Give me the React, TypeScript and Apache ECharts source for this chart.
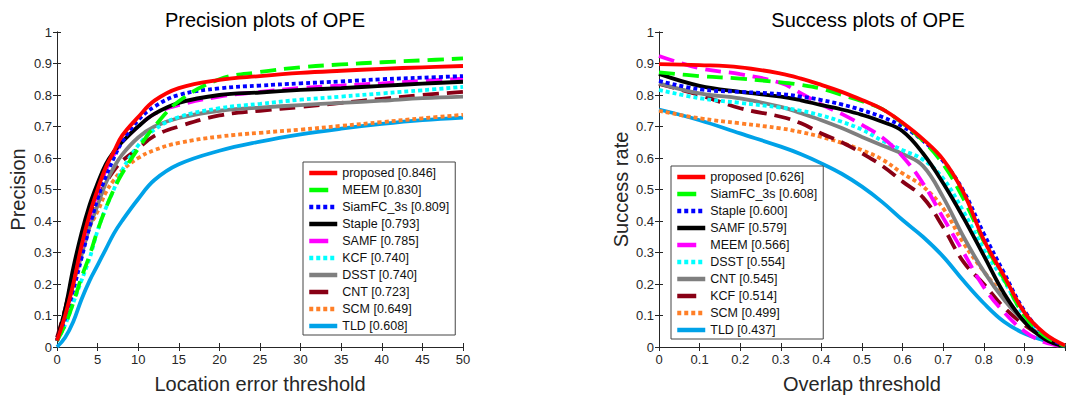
import React, { useEffect, useRef } from "react";
import * as echarts from "echarts";

// ---------- Precision plot data ----------
const precisionThresholds = [0, 1, 2, 3, 4, 5, 6, 7, 8, 10, 12, 15, 20, 25, 30, 35, 40, 45, 50];
const precisionNames = [
  "proposed [0.846]", "MEEM [0.830]", "SiamFC_3s [0.809]", "Staple [0.793]", "SAMF [0.785]",
  "KCF [0.740]", "DSST [0.740]", "CNT [0.723]", "SCM [0.649]", "TLD [0.608]",
];
const precProposed = [0.02, 0.1, 0.2, 0.32, 0.42, 0.5, 0.57, 0.62, 0.67, 0.73, 0.782, 0.822, 0.848, 0.86, 0.87, 0.877, 0.883, 0.888, 0.892];
const precMEEM = [0.02, 0.07, 0.14, 0.22, 0.29, 0.37, 0.44, 0.5, 0.55, 0.63, 0.7, 0.78, 0.85, 0.873, 0.888, 0.897, 0.904, 0.91, 0.916];
const precSiamFC = [0.02, 0.09, 0.18, 0.28, 0.38, 0.47, 0.54, 0.6, 0.65, 0.72, 0.763, 0.8, 0.821, 0.83, 0.837, 0.843, 0.85, 0.855, 0.86];
const precStaple = [0.02, 0.12, 0.25, 0.36, 0.45, 0.52, 0.58, 0.62, 0.65, 0.7, 0.74, 0.775, 0.8, 0.808, 0.816, 0.822, 0.829, 0.836, 0.842];
const precSAMF = [0.02, 0.1, 0.2, 0.31, 0.41, 0.49, 0.56, 0.61, 0.65, 0.7, 0.74, 0.768, 0.795, 0.81, 0.822, 0.83, 0.837, 0.845, 0.852];
const precKCF = [0.02, 0.07, 0.14, 0.21, 0.28, 0.37, 0.44, 0.5, 0.56, 0.64, 0.69, 0.73, 0.758, 0.772, 0.785, 0.795, 0.805, 0.815, 0.826];
const precDSST = [0.02, 0.1, 0.2, 0.29, 0.38, 0.45, 0.52, 0.57, 0.61, 0.665, 0.7, 0.727, 0.75, 0.76, 0.768, 0.775, 0.782, 0.79, 0.795];
const precCNT = [0.03, 0.12, 0.23, 0.33, 0.42, 0.47, 0.52, 0.56, 0.59, 0.63, 0.67, 0.7, 0.735, 0.75, 0.762, 0.775, 0.788, 0.8, 0.81];
const precSCM = [0.02, 0.12, 0.23, 0.31, 0.38, 0.43, 0.49, 0.53, 0.56, 0.6, 0.625, 0.648, 0.668, 0.68, 0.69, 0.702, 0.714, 0.726, 0.737];
const precTLD = [0.0, 0.03, 0.08, 0.15, 0.21, 0.26, 0.31, 0.36, 0.4, 0.47, 0.53, 0.58, 0.623, 0.652, 0.675, 0.693, 0.708, 0.72, 0.728];
const precisionValues = [precProposed, precMEEM, precSiamFC, precStaple, precSAMF, precKCF, precDSST, precCNT, precSCM, precTLD];

// ---------- Success plot data ----------
const successThresholds = [0, 0.1, 0.2, 0.3, 0.35, 0.4, 0.45, 0.5, 0.55, 0.6, 0.65, 0.7, 0.75, 0.8, 0.85, 0.9, 0.95, 1];
const successNames = [
  "proposed [0.626]", "SiamFC_3s [0.608]", "Staple [0.600]", "SAMF [0.579]", "MEEM [0.566]",
  "DSST [0.554]", "CNT [0.545]", "KCF [0.514]", "SCM [0.499]", "TLD [0.437]",
];
const succProposed = [0.898, 0.895, 0.888, 0.868, 0.852, 0.832, 0.81, 0.784, 0.755, 0.712, 0.66, 0.595, 0.49, 0.34, 0.225, 0.11, 0.043, 0.005];
const succSiamFC = [0.872, 0.86, 0.852, 0.84, 0.832, 0.82, 0.8, 0.78, 0.755, 0.71, 0.655, 0.58, 0.47, 0.335, 0.215, 0.1, 0.035, 0.003];
const succStaple = [0.845, 0.818, 0.81, 0.803, 0.795, 0.784, 0.77, 0.752, 0.73, 0.7, 0.655, 0.59, 0.495, 0.36, 0.235, 0.115, 0.04, 0.003];
const succSAMF = [0.867, 0.829, 0.81, 0.795, 0.783, 0.768, 0.754, 0.737, 0.715, 0.685, 0.615, 0.52, 0.41, 0.29, 0.17, 0.08, 0.025, 0.002];
const succMEEM = [0.924, 0.885, 0.866, 0.838, 0.805, 0.77, 0.74, 0.705, 0.665, 0.605, 0.52, 0.41, 0.3, 0.19, 0.11, 0.05, 0.015, 0.002];
const succDSST = [0.816, 0.79, 0.775, 0.76, 0.75, 0.735, 0.715, 0.69, 0.655, 0.625, 0.595, 0.535, 0.43, 0.31, 0.21, 0.1, 0.035, 0.003];
const succCNT = [0.837, 0.805, 0.789, 0.762, 0.742, 0.72, 0.695, 0.667, 0.64, 0.613, 0.575, 0.475, 0.35, 0.24, 0.15, 0.08, 0.03, 0.003];
const succKCF = [0.835, 0.8, 0.758, 0.731, 0.71, 0.678, 0.65, 0.615, 0.575, 0.525, 0.475, 0.38, 0.27, 0.2, 0.125, 0.07, 0.03, 0.003];
const succSCM = [0.75, 0.726, 0.71, 0.694, 0.682, 0.667, 0.648, 0.625, 0.595, 0.551, 0.51, 0.44, 0.33, 0.24, 0.16, 0.08, 0.03, 0.003];
const succTLD = [0.754, 0.72, 0.678, 0.636, 0.612, 0.583, 0.55, 0.509, 0.46, 0.403, 0.35, 0.287, 0.21, 0.139, 0.08, 0.043, 0.02, 0.002];
const successValues = [succProposed, succSiamFC, succStaple, succSAMF, succMEEM, succDSST, succCNT, succKCF, succSCM, succTLD];

// ---------- Styles by rank ----------
const rankColors = ["#FF0000", "#00FF00", "#0000FF", "#000000", "#FF00FF", "#00FFFF", "#7F7F7F", "#880015", "#FF7F27", "#00A2E8"];
const DASH: number[] = [16, 8];
const DOT: number[] = [4, 3];
const rankTypes: any[] = ["solid", DASH, DOT, "solid", DASH, DOT, "solid", DASH, DOT, "solid"];

const FONT = "'Liberation Sans', Arial, sans-serif";
const TEXT = "#262626";

function makeAxisPair(gridIndex: number, dir: "x" | "y", min: number, max: number, interval: number, name: string, nameGap: number, hideLast: boolean) {
  const common = {
    gridIndex,
    type: "value",
    min,
    max,
    interval,
    splitLine: { show: false },
    axisLine: { show: true, lineStyle: { color: TEXT, width: 1 } },
    axisTick: { show: true, inside: true, length: 4, lineStyle: { color: TEXT } },
  };
  const main = {
    ...common,
    position: dir === "x" ? "bottom" : "left",
    name,
    nameLocation: "middle",
    nameGap,
    nameTextStyle: { fontSize: 20, color: TEXT, fontFamily: FONT },
    axisLabel: {
      show: true,
      fontSize: 13,
      color: TEXT,
      fontFamily: FONT,
      margin: dir === "x" ? 6 : 5,
      formatter: (v: number) => (hideLast && Math.abs(v - max) < 1e-9 ? "" : String(Math.round(v * 1000) / 1000)),
    },
  };
  const mirror = {
    ...common,
    position: dir === "x" ? "top" : "right",
    axisLabel: { show: false },
  };
  return [main, mirror];
}

function legendData(names: string[]) {
  return names.map((n, i) => {
    const t = rankTypes[i];
    if (t === DASH) return { name: n, lineStyle: { type: [19, 30], width: 4.5 } };
    if (t === DOT) return { name: n, lineStyle: { type: [4, 3], width: 4.5 } };
    return { name: n, lineStyle: { width: 4.5 } };
  });
}

export default function App() {
  const ref = useRef<HTMLDivElement>(null);
  useEffect(() => {
    if (!ref.current) return;
    const chart = echarts.init(ref.current, undefined, { renderer: "svg" });

    const xAxes = [
      ...makeAxisPair(0, "x", 0, 50, 5, "Location error threshold", 27, false),
      ...makeAxisPair(1, "x", 0, 1, 0.1, "Overlap threshold", 27, true),
    ];
    const yAxes = [
      ...makeAxisPair(0, "y", 0, 1, 0.1, "Precision", 29, false),
      ...makeAxisPair(1, "y", 0, 1, 0.1, "Success rate", 28, false),
    ];

    const series: any[] = [];
    precisionNames.forEach((name, i) => {
      series.push({
        type: "line",
        name,
        xAxisIndex: 0,
        yAxisIndex: 0,
        data: precisionThresholds.map((x, k) => [x, precisionValues[i][k]]),
        symbol: "none",
        smooth: 0.4,
        lineStyle: { color: rankColors[i], width: 3.8, type: rankTypes[i], cap: "butt" },
        itemStyle: { color: rankColors[i] },
        z: 20 - i,
      });
    });
    successNames.forEach((name, i) => {
      series.push({
        type: "line",
        name,
        xAxisIndex: 2,
        yAxisIndex: 2,
        data: successThresholds.map((x, k) => [x, successValues[i][k]]),
        symbol: "none",
        smooth: 0.4,
        lineStyle: { color: rankColors[i], width: 3.8, type: rankTypes[i], cap: "butt" },
        itemStyle: { color: rankColors[i] },
        z: 20 - i,
      });
    });

    const legendCommon = {
      orient: "vertical",
      backgroundColor: "#ffffff",
      borderColor: "#444444",
      borderWidth: 1,
      borderRadius: 0,
      itemWidth: 28,
      itemHeight: 1,
      itemGap: 3,
      selectedMode: false,
      itemStyle: { opacity: 0 },
      lineStyle: { width: 4.5 },
      textStyle: { fontSize: 12.5, color: "#111", fontFamily: FONT, lineHeight: 14 },
      z: 50,
    };

    chart.setOption({
      animation: false,
      backgroundColor: "#ffffff",
      textStyle: { fontFamily: FONT },
      title: [
        { text: "Precision plots of OPE", left: 260, top: 5, textAlign: "center", textStyle: { fontSize: 20, fontWeight: "normal", color: "#000", fontFamily: FONT } },
        { text: "Success plots of OPE", left: 863, top: 5, textAlign: "center", textStyle: { fontSize: 20, fontWeight: "normal", color: "#000", fontFamily: FONT } },
      ],
      grid: [
        { left: 57, top: 32, width: 406, height: 315 },
        { left: 659, top: 32, width: 408, height: 315 },
      ],
      xAxis: xAxes,
      yAxis: yAxes,
      legend: [
        { ...legendCommon, left: 303, top: 162, padding: [4, 6, 2, 4], data: legendData(precisionNames) },
        { ...legendCommon, left: 671, top: 166, padding: [4, 6, 2, 4], data: legendData(successNames) },
      ],
      series,
    });

    return () => chart.dispose();
  }, []);

  return <div ref={ref} style={{ position: "fixed", left: 0, top: 0, width: 1068, height: 401 }} />;
}
